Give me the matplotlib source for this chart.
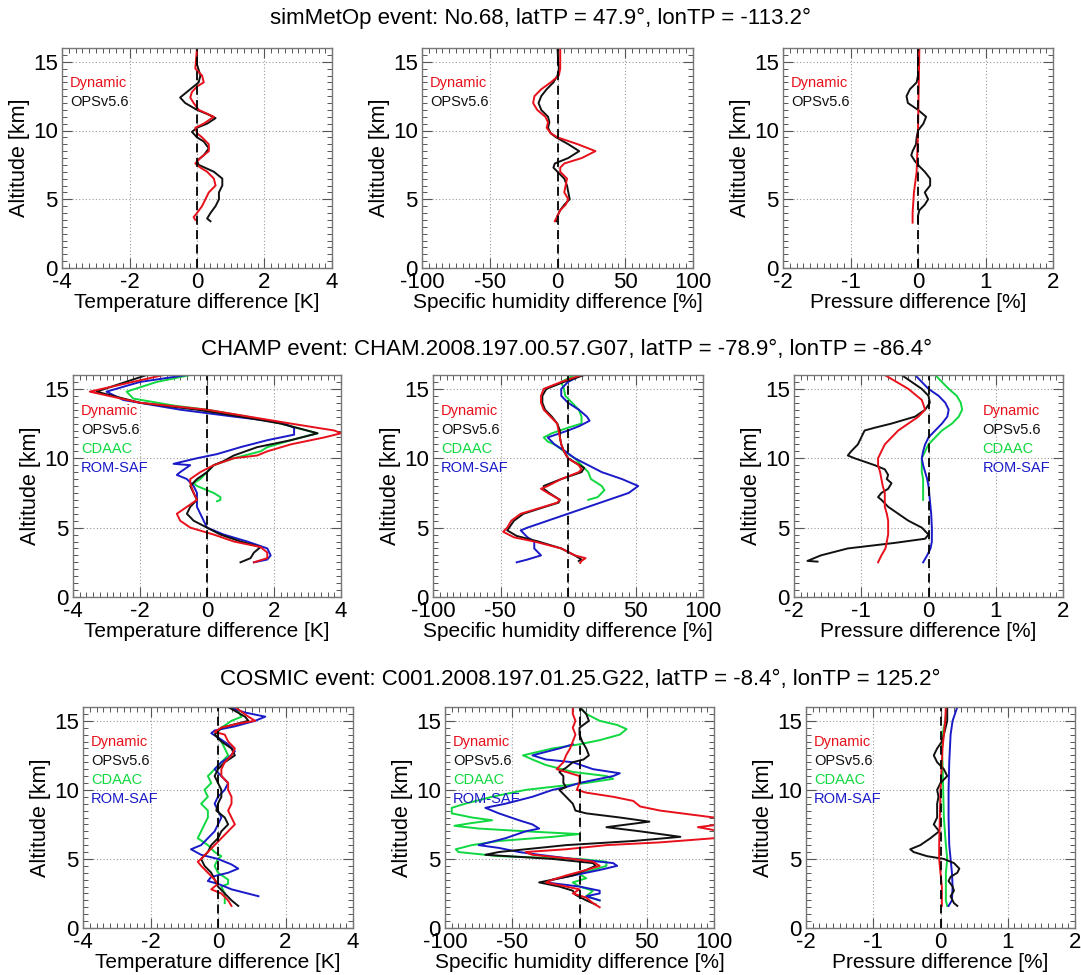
"""Difference profiles (temperature, humidity, pressure) for three RO events."""

import matplotlib
matplotlib.use("Agg")
import matplotlib.pyplot as plt
from matplotlib.ticker import AutoMinorLocator, MultipleLocator

plt.rcParams["font.family"] = ["Liberation Sans", "DejaVu Sans"]
plt.rcParams["axes.unicode_minus"] = False

RED, BLACK, GREEN, BLUE = "#e8101a", "#111111", "#10d840", "#1a1ac8"

# ---------------- row 1: simMetOp ----------------
r1_t_alt_ops = [16, 14.8, 14.0, 13.5, 13.2, 12.8, 12.4, 12.0, 11.5, 11.2, 10.9, 10.5, 10.2, 9.9, 9.5, 9.2, 8.7,
                8.2, 7.8, 7.5, 7.0, 6.5, 6.0, 5.5, 5.0, 4.5, 4.0, 3.6, 3.4]
r1_t_ops = [0.0, 0.0, 0.1, 0.05, -0.1, -0.3, -0.5, -0.35, 0.0, 0.3, 0.55, 0.3, 0.0, -0.15, 0.0, 0.2, 0.35,
            0.2, 0.0, 0.05, 0.5, 0.75, 0.75, 0.65, 0.65, 0.55, 0.4, 0.3, 0.4]
r1_t_alt_dyn = [16, 14.5, 14.0, 13.5, 13.2, 12.8, 12.4, 12.0, 11.5, 11.0, 10.5, 10.2, 9.8, 9.5, 9.0, 8.5, 8.0,
                7.6, 7.3, 7.0, 6.5, 6.0, 5.5, 5.0, 4.5, 4.0, 3.7, 3.5]
r1_t_dyn = [0.0, -0.05, 0.15, 0.2, 0.0, -0.15, -0.2, -0.1, 0.05, 0.5, 0.2, -0.05, 0.0, 0.15, 0.35, 0.35, 0.1,
            -0.05, 0.1, 0.3, 0.5, 0.55, 0.35, 0.25, 0.15, 0.0, -0.1, -0.05]

r1_q_alt = [16, 15, 14.5, 14.0, 13.5, 13.0, 12.5, 12.0, 11.5, 11.0, 10.6, 10.2, 9.8, 9.5, 9.0, 8.5, 8.0, 7.6,
            7.3, 7.0, 6.5, 6.0, 5.5, 5.0, 4.6, 4.2, 3.8, 3.4]
r1_q_ops = [0, 0.5, 1, 0, -3, -8, -12, -14, -12, -7, -6, -7, -5, -1, 8, 16, 8, -2,
            -3, 0, 5, 7, 8, 9, 5, 2, 0, -1]
r1_q_dyn = [2, 2, 2, 1, -5, -12, -17, -18, -15, -9, -7, -8, -5, 0, 15, 28, 18, 5,
            2, 2, 7, 6, 5, 8, 6, 2, 0, -2]

r1_p_alt_dyn = [16, 13, 10, 7, 5.5, 4.0, 3.3]
r1_p_dyn = [0.02, 0.01, 0.0, -0.02, -0.06, -0.08, -0.08]
r1_p_alt_ops = [16, 14, 13.5, 13, 12.5, 12.0, 11.5, 11, 10.5, 10, 9.5, 9, 8.5, 8.2, 7.8, 7.5, 7.0, 6.5, 6.0,
                5.5, 5.0, 4.6, 4.2, 3.8, 3.3]
r1_p_ops = [0, 0, -0.02, -0.12, -0.17, -0.15, 0, 0.12, 0.08, 0, -0.02, -0.03, -0.08, -0.1, -0.05, 0.0, 0.1,
            0.18, 0.18, 0.1, 0.15, 0.1, 0.02, 0.0, 0.0]

# ---------------- row 2: CHAMP ----------------
r2_t_alt_dyn = [16, 14.8, 14, 13.5, 12.5, 12.0, 11.8, 11.5, 11.0, 10.5, 10.2, 10.0, 9.5, 9.0, 8.5, 8.2, 7.5,
                7, 6.5, 6.0, 5.5, 5.0, 4.5, 4.0, 3.6, 3.2, 2.8, 2.5]
r2_t_dyn = [-1.3, -3.5, -2, 0, 2.5, 3.8, 4.0, 3.5, 2.5, 1.8, 1.5, 0.8, 0.2, -0.2, -0.5, -0.5, -0.4,
            -0.3, -0.6, -0.9, -0.8, -0.5, 0.2, 0.8, 1.6, 1.8, 1.8, 1.4]
r2_t_alt_ops = [16, 14.8, 14, 13.5, 13, 12.5, 11.8, 11.3, 10.8, 10.2, 9.8, 9.5, 9, 8.5, 8.0, 7.5, 7, 6.5, 6.0,
                5.5, 5.0, 4.5, 4.0, 3.6, 3.2, 2.8, 2.5]
r2_t_ops = [-1.8, -3.3, -2, -0.3, 1, 2.2, 3.3, 2.5, 1.5, 0.8, 0.5, 0.2, 0, -0.3, -0.5, -0.4, -0.3, -0.5, -0.6,
            -0.4, 0.0, 0.4, 1.0, 1.6, 1.4, 1.3, 1.0]
r2_t_alt_cda = [16, 15.5, 14.8, 14.3, 13.8, 13.5, 13, 12.5, 11.8, 11.3, 10.8, 10.5, 10.0, 9.5, 9.0, 8.5, 8.2,
                8.0, 7.8, 7.5, 7.2, 7.0, 6.9]
r2_t_cda = [-0.5, -1.5, -2.4, -2.2, -1, 0, 1.2, 2.2, 3.3, 2.5, 1.8, 1.6, 0.8, 0.2, 0, -0.2, -0.4,
            -0.3, -0.1, 0.2, 0.4, 0.4, 0.3]
r2_t_alt_rom = [16, 15.5, 14.8, 14.2, 13.5, 13.0, 12.6, 12.2, 11.7, 11.3, 10.8, 10.3, 10.0, 9.6, 9.5, 9.0, 8.8,
                8.5, 8.0, 7.5, 7.0, 6.5, 6.0, 5.5, 5.0, 4.5, 4.0, 3.5, 3.0, 2.7, 2.5]
r2_t_rom = [-0.6, -2, -3.0, -2.5, -0.8, 0.8, 2.2, 2.6, 2.6, 1.8, 1.0, 0.3, -0.3, -1.0, -0.5, -0.8, -0.9,
            -0.6, -0.4, -0.3, -0.3, -0.3, -0.2, -0.1, 0.0, 0.5, 1.2, 1.8, 1.9, 1.8, 1.4]

r2_q_alt_dyn = [16, 15.5, 15, 14.5, 14, 13.5, 13, 12.5, 12, 11.5, 11, 10.5, 10, 9.5, 9.2, 9.0, 8.5, 8.0, 7.8,
                7.5, 7.0, 6.8, 6.5, 6.0, 5.5, 5.0, 4.7, 4.3, 4.0, 3.5, 3.0, 2.8, 2.6, 2.45]
r2_q_dyn = [10, -5, -18, -20, -20, -18, -13, -8, -7, -6, -5, -3, 0, 8, 10, 8, -5, -15, -20,
            -15, -6, -8, -18, -35, -42, -45, -48, -40, -25, -5, 5, 13, 10, 9]
r2_q_alt_ops = [16, 15.5, 15, 14.5, 14, 13.5, 13, 12.5, 12, 11.5, 11, 10.5, 10, 9.3, 9.0, 8.5, 8.0, 7.8, 7.5,
                7.0, 6.8, 6.5, 6.0, 5.5, 4.8, 4.4, 4.0, 3.5, 3.0, 2.7, 2.6]
r2_q_ops = [12, -3, -16, -19, -19, -17, -12, -8, -6, -6, -5, -3, 0, 12, 10, -5, -18, -18, -14,
            -6, -7, -17, -33, -40, -45, -38, -22, -5, 5, 10, 8]
r2_q_alt_cda = [16, 15.5, 15.0, 14.5, 14, 13.5, 13, 12.5, 12.2, 11.8, 11.5, 11.2, 11, 10.5, 10, 9.5, 9, 8.5,
                8.0, 7.7, 7.5, 7.2, 7.0]
r2_q_cda = [5, -5, -3, -2, 3, 8, 10, 10, 0, -12, -18, -15, -10, -3, 5, 10, 15, 17,
            25, 27, 25, 22, 15]
r2_q_alt_rom = [16, 15.5, 15, 14.5, 14, 13.5, 13, 12.7, 12.3, 12, 11.5, 11.0, 10.5, 10, 9.5, 9, 8.5, 8.0, 7.5,
                7, 6.5, 6.0, 5.5, 5.0, 4.8, 4.3, 4.0, 3.5, 3.0, 2.7, 2.5]
r2_q_rom = [10, 0, -5, -5, 0, 8, 14, 16, 8, 0, -15, -10, -2, 5, 15, 25, 40, 52, 45,
            30, 15, 0, -15, -30, -35, -30, -25, -25, -20, -30, -38]

r2_p_alt_dyn = [16, 15, 14.2, 13.5, 13, 12.5, 12, 11.5, 11, 10.5, 10, 9.5, 9, 8.5, 8, 7.5, 7, 6.5, 6, 5.5, 5,
                4.5, 4, 3.5, 3, 2.5]
r2_p_dyn = [-0.65, -0.3, -0.1, -0.05, -0.15, -0.3, -0.45, -0.55, -0.65, -0.7, -0.75, -0.75, -0.72, -0.7,
            -0.68, -0.65, -0.65, -0.65, -0.62, -0.6, -0.6, -0.6, -0.62, -0.64, -0.7, -0.75]
r2_p_alt_ops = [16, 15.5, 15, 14.5, 14, 13.5, 13.0, 12.5, 12.2, 12.0, 11.5, 11.0, 10.5, 10.2, 10.0, 9.5, 9.2,
                8.8, 8.5, 8.2, 7.8, 7.5, 7.2, 7.0, 6.5, 6.0, 5.5, 5.0, 4.5, 4.2, 3.9, 3.5, 3.0, 2.6, 2.55]
r2_p_ops = [-0.4, -0.25, -0.1, 0.0, 0.02, -0.05, -0.2, -0.55, -0.8, -0.95, -1.0, -1.05, -1.15, -1.2, -1.1,
            -0.8, -0.65, -0.6, -0.62, -0.55, -0.6, -0.7, -0.75, -0.7, -0.6, -0.45, -0.3, -0.1, 0.0, -0.05,
            -0.5, -1.2, -1.6, -1.8, -1.65]
r2_p_alt_cda = [16, 15.5, 15, 14.5, 14, 13.5, 13, 12.5, 12, 11.5, 11, 10.5, 10, 9.5, 9, 8.5, 8, 7.5, 7]
r2_p_cda = [0.1, 0.2, 0.3, 0.42, 0.48, 0.5, 0.45, 0.35, 0.2, 0.1, 0.0, -0.05, -0.1, -0.1, -0.1, -0.08,
            -0.08, -0.08, -0.08]
r2_p_alt_rom = [16, 15.5, 15, 14.5, 14, 13.5, 13, 12.5, 12, 11.5, 11, 10.5, 10, 9.5, 9, 8.5, 8, 7, 6, 5, 4,
                3.5, 3, 2.5]
r2_p_rom = [-0.2, -0.1, 0.0, 0.15, 0.25, 0.3, 0.28, 0.2, 0.1, 0.0, -0.05, -0.08, -0.1, -0.08, -0.05,
            -0.02, 0.0, 0.02, 0.04, 0.05, 0.05, 0.03, -0.02, -0.08]

# ---------------- row 3: COSMIC ----------------
r3_t_alt_dyn = [16, 15.3, 15, 14.8, 14.5, 14.2, 14, 13.5, 13, 12.5, 12, 11.5, 11, 10.5, 10, 9.5, 9, 8.5, 8,
                7.5, 7, 6.5, 6, 5.5, 5, 4.8, 4.5, 4, 3.5, 3.2, 2.8, 2.5, 2, 1.6]
r3_t_dyn = [0.5, 0.9, 1.1, 0.6, 0.1, -0.1, 0.2, 0.3, 0.5, 0.4, 0.2, 0.1, 0.1, 0.3, 0.3, 0.4, 0.4, 0.3, 0.4,
            0.5, 0.3, 0.1, -0.1, -0.3, -0.5, -0.6, -0.5, -0.3, -0.1, 0.0, -0.2, 0.1, 0.3, 0.4]
r3_t_alt_ops = [16, 15.3, 15, 14.5, 14, 13.5, 13, 12.5, 12, 11.5, 11, 10.5, 10, 9.5, 9, 8.5, 8, 7.5, 7, 6.5,
                6, 5.5, 5, 4.5, 4, 3.5, 3, 2.5, 2, 1.6]
r3_t_ops = [0.3, 0.8, 0.9, 0.1, -0.1, 0.1, 0.4, 0.5, 0.2, 0.0, -0.1, 0.0, 0.1, 0.1, 0.0, -0.05, 0.2, 0.3,
            0.1, 0.0, -0.2, -0.3, -0.5, -0.4, -0.2, -0.1, 0.0, 0.2, 0.4, 0.6]
r3_t_alt_cda = [16, 15.3, 15, 14.5, 14, 13.5, 13, 12.5, 12, 11.5, 11, 10.5, 10, 9.5, 9, 8.5, 8, 7.5, 7, 6.5,
                6, 5.5, 5.2, 5, 4.5, 4, 3.5, 3.2, 3, 2.5, 2, 1.8]
r3_t_cda = [0.5, 0.7, 0.4, 0.1, -0.1, 0.1, 0.2, 0.3, 0.1, -0.1, -0.3, -0.2, -0.4, -0.3, -0.5, -0.3, -0.3,
            -0.4, -0.5, -0.6, -0.3, -0.1, 0.1, 0.0, -0.1, 0.0, 0.3, 0.3, 0.1, 0.2, 0.2, 0.2]
r3_t_alt_rom = [16, 15.6, 15.3, 15, 14.6, 14.3, 14.1, 13.8, 13.3, 12.8, 12.3, 12, 11.5, 11, 10.5, 10, 9.5, 9,
                8.5, 8, 7.5, 7, 6.5, 6.0, 5.7, 5.3, 5.0, 4.6, 4.3, 4.0, 3.7, 3.4, 3.2, 2.8, 2.3]
r3_t_rom = [0.3, 0.8, 1.4, 1.1, 0.5, -0.1, -0.2, 0.0, 0.3, 0.5, 0.3, 0.1, -0.1, 0.1, 0.3, 0.2, 0.0, -0.1,
            0.0, 0.1, 0.0, -0.1, -0.3, -0.5, -0.8, -0.5, 0.0, 0.4, 0.6, 0.3, -0.2, -0.3, 0.0, 0.4, 1.2]

r3_q_alt_dyn = [16, 15.5, 15, 14.5, 14, 13.5, 13, 12.5, 12, 11.5, 11.3, 11.0, 10.5, 10, 9.8, 9.5, 9.2, 8.8,
                8.5, 8.0, 7.5, 7.3, 7.0, 6.5, 6.2, 6.0, 5.7, 5.5, 5.3, 5.0, 4.8, 4.5, 4.2, 3.8, 3.5, 3.3,
                3.0, 2.8, 2.5, 2.2, 1.8, 1.5]
r3_q_dyn = [-5, -5, -3, -5, -3, -5, -7, -10, -12, -17, -10, 0, 0, -2, 5, 25, 40, 45,
            60, 100, 105, 88, 105, 100, 60, 20, -10, -40, -35, -5, 10, 15, 5, -10, -20, -25,
            -10, 0, -5, 5, 10, 15]
r3_q_alt_ops = [16, 15.5, 15, 14.5, 14.0, 13.5, 13, 12.5, 12.2, 12, 11.6, 11.3, 11, 10.5, 10.2, 10, 9.5, 9.0,
                8.5, 8.3, 8.0, 7.7, 7.3, 7.0, 6.6, 6.3, 6.0, 5.7, 5.5, 5.3, 5.0, 4.7, 4.5, 4.2, 3.8, 3.5,
                3.3, 3.0, 2.7, 2.4, 2.0, 1.7]
r3_q_ops = [0, 5, 7, 0, 0, 2, 5, 7, 3, -5, -10, -15, -12, -12, -10, -15, -10, -5,
            -3, 5, 30, 52, 20, 45, 75, 40, -10, -40, -60, -70, -20, 10, 12, 5, -5, -20,
            -30, -15, -5, -3, 5, 12]
r3_q_alt_cda = [16, 15.5, 15, 14.7, 14.4, 14.0, 13.6, 13.3, 13, 12.5, 12.2, 11.8, 11.3, 11, 10.8, 10.5, 10,
                9.5, 9.0, 8.7, 8.3, 8.0, 7.8, 7.6, 7.4, 7.2, 7.0, 6.8, 6.6, 6.3, 6.0, 5.7, 5.5, 5.2, 5.0,
                4.8, 4.5, 4.2, 3.9, 3.6, 3.3, 3.0, 2.7, 2.3, 2.0]
r3_q_cda = [0, 5, 15, 28, 35, 30, 15, 0, -20, -42, -35, -25, -5, 20, 25, 5, -40,
            -65, -85, -95, -95, -80, -65, -80, -93, -75, -40, 0, -20, -60, -80, -92, -90, -60, 0,
            20, 20, 10, 0, 5, -5, 0, 10, 5, 15]
r3_q_alt_rom = [13.3, 13, 12.5, 12.2, 12, 11.5, 11.2, 11, 10.5, 10.2, 10, 9.5, 9, 8.7, 8.3, 7.8, 7.5, 7.2, 7.0,
                6.5, 6.0, 5.8, 5.5, 5.3, 5.0, 4.7, 4.5, 4.2, 3.8, 3.5, 3.3, 3.0, 2.7, 2.5, 2.3, 2.0]
r3_q_rom = [-5, -15, -35, -25, -5, 10, 30, 25, 0, -10, -20, -35, -55, -70, -60, -45, -35, -30, -40,
            -55, -75, -60, -45, -30, -5, 25, 28, 15, -5, -20, -25, 0, 15, 15, 5, 15]

r3_p_alt_dyn = [16, 15, 14, 13, 12, 10, 8, 6, 5, 4, 3, 2, 1.6]
r3_p_dyn = [0.08, 0.07, 0.05, 0.03, 0.02, 0.0, -0.01, -0.02, -0.02, 0.0, 0.02, 0.02, 0.02]
r3_p_alt_cda = [16, 15, 14, 13, 12, 10, 8, 6, 5, 4, 3, 2, 1.6]
r3_p_cda = [0.1, 0.07, 0.03, 0.02, 0.03, 0.04, 0.05, 0.08, 0.1, 0.08, 0.08, 0.08, 0.1]
r3_p_alt_rom = [16, 15, 14, 12, 10, 8, 6, 5, 4, 3, 2, 1.6]
r3_p_rom = [0.25, 0.18, 0.15, 0.13, 0.12, 0.12, 0.13, 0.15, 0.17, 0.18, 0.17, 0.12]
r3_p_alt_ops = [16, 15, 14, 13.5, 13, 12.5, 12, 11.5, 11, 10.5, 10, 9.5, 9, 8.5, 8, 7.5, 7, 6.5, 6.0, 5.7,
                5.5, 5.2, 5.0, 4.7, 4.3, 4, 3.7, 3.4, 3.0, 2.7, 2.3, 1.8, 1.6]
r3_p_ops = [0.1, 0.1, 0.05, 0.02, -0.05, -0.1, -0.05, 0.05, 0.1, 0.0, -0.05, -0.03, -0.05, -0.05, -0.05,
            -0.1, -0.02, -0.15, -0.3, -0.45, -0.4, -0.2, 0.05, 0.2, 0.28, 0.25, 0.15, 0.12, 0.18, 0.2, 0.15,
            0.2, 0.25]

row_titles = [
    "simMetOp event: No.68, latTP = 47.9°, lonTP = -113.2°",
    "CHAMP event: CHAM.2008.197.00.57.G07, latTP = -78.9°, lonTP = -86.4°",
    "COSMIC event: C001.2008.197.01.25.G22, latTP = -8.4°, lonTP = 125.2°",
]
x_labels = ["Temperature difference [K]", "Specific humidity difference [%]", "Pressure difference [%]"]
x_limits = [4, 100, 2]
x_steps = [2, 50, 1]
legend_names = ["Dynamic", "OPSv5.6", "CDAAC", "ROM-SAF"]
legend_colors = [RED, BLACK, GREEN, BLUE]

# panel data: per panel list of (alt, values, colour), drawn in order
panels = [
    [[(r1_t_alt_ops, r1_t_ops, BLACK), (r1_t_alt_dyn, r1_t_dyn, RED)],
     [(r1_q_alt, r1_q_ops, BLACK), (r1_q_alt, r1_q_dyn, RED)],
     [(r1_p_alt_ops, r1_p_ops, BLACK), (r1_p_alt_dyn, r1_p_dyn, RED)]],
    [[(r2_t_alt_cda, r2_t_cda, GREEN), (r2_t_alt_rom, r2_t_rom, BLUE),
      (r2_t_alt_ops, r2_t_ops, BLACK), (r2_t_alt_dyn, r2_t_dyn, RED)],
     [(r2_q_alt_cda, r2_q_cda, GREEN), (r2_q_alt_rom, r2_q_rom, BLUE),
      (r2_q_alt_ops, r2_q_ops, BLACK), (r2_q_alt_dyn, r2_q_dyn, RED)],
     [(r2_p_alt_cda, r2_p_cda, GREEN), (r2_p_alt_rom, r2_p_rom, BLUE),
      (r2_p_alt_ops, r2_p_ops, BLACK), (r2_p_alt_dyn, r2_p_dyn, RED)]],
    [[(r3_t_alt_cda, r3_t_cda, GREEN), (r3_t_alt_rom, r3_t_rom, BLUE),
      (r3_t_alt_ops, r3_t_ops, BLACK), (r3_t_alt_dyn, r3_t_dyn, RED)],
     [(r3_q_alt_cda, r3_q_cda, GREEN), (r3_q_alt_rom, r3_q_rom, BLUE),
      (r3_q_alt_ops, r3_q_ops, BLACK), (r3_q_alt_dyn, r3_q_dyn, RED)],
     [(r3_p_alt_cda, r3_p_cda, GREEN), (r3_p_alt_rom, r3_p_rom, BLUE),
      (r3_p_alt_ops, r3_p_ops, BLACK), (r3_p_alt_dyn, r3_p_dyn, RED)]],
]

# axes boxes in pixels: (left, top, right, bottom)
W, H = 1081, 975
boxes = [
    [(62, 48, 332, 268), (422, 48, 693, 268), (783, 48, 1053, 268)],
    [(73, 375, 341, 597), (433, 375, 703, 597), (794, 375, 1063, 597)],
    [(83, 707, 353, 928), (445, 707, 714, 928), (806, 707, 1075, 928)],
]
title_pos = [(540, 18), (567, 349), (580, 680)]

fig = plt.figure(figsize=(W / 100, H / 100), dpi=100)

for r in range(3):
    tx, ty = title_pos[r]
    fig.text(tx / W, 1 - ty / H, row_titles[r], ha="center", va="center", fontsize=16)
    n_leg = 2 if r == 0 else 4
    for c in range(3):
        l, t, rr, b = boxes[r][c]
        ax = fig.add_axes([l / W, 1 - b / H, (rr - l) / W, (b - t) / H])
        for alt, vals, col in panels[r][c]:
            ax.plot(vals, alt, color=col, lw=1.4, solid_joinstyle="round")
        ax.axvline(0, color="black", lw=1.3, ls=(0, (5, 3)))
        lim = x_limits[c]
        ax.set_xlim(-lim, lim)
        ax.set_ylim(0, 16)
        ax.xaxis.set_major_locator(MultipleLocator(x_steps[c]))
        ax.yaxis.set_major_locator(MultipleLocator(5))
        ax.xaxis.set_minor_locator(AutoMinorLocator(10))
        ax.yaxis.set_minor_locator(AutoMinorLocator(10))
        ax.grid(True, which="major", color="#999999", ls=(0, (1, 2)), lw=0.8)
        ax.tick_params(which="both", direction="in", top=True, right=True, color="#555555")
        ax.tick_params(which="major", length=7, width=0.8, labelsize=16)
        ax.tick_params(axis="x", which="major", pad=3)
        ax.tick_params(axis="y", which="major", pad=3)
        ax.tick_params(which="minor", length=3.5, width=0.7)
        for sp in ax.spines.values():
            sp.set_color("#777777")
            sp.set_linewidth(1.0)
        ax.set_xlabel(x_labels[c], fontsize=15, labelpad=0)
        ax.set_ylabel("Altitude [km]", fontsize=15.5, labelpad=2)
        # text legend
        lx = 0.70 if (r == 1 and c == 2) else 0.03
        for i in range(n_leg):
            ax.text(lx, 0.84 - i * 0.086, legend_names[i], color=legend_colors[i],
                    transform=ax.transAxes, fontsize=10.5, va="center", ha="left")

fig.savefig("out.png", dpi=100)
